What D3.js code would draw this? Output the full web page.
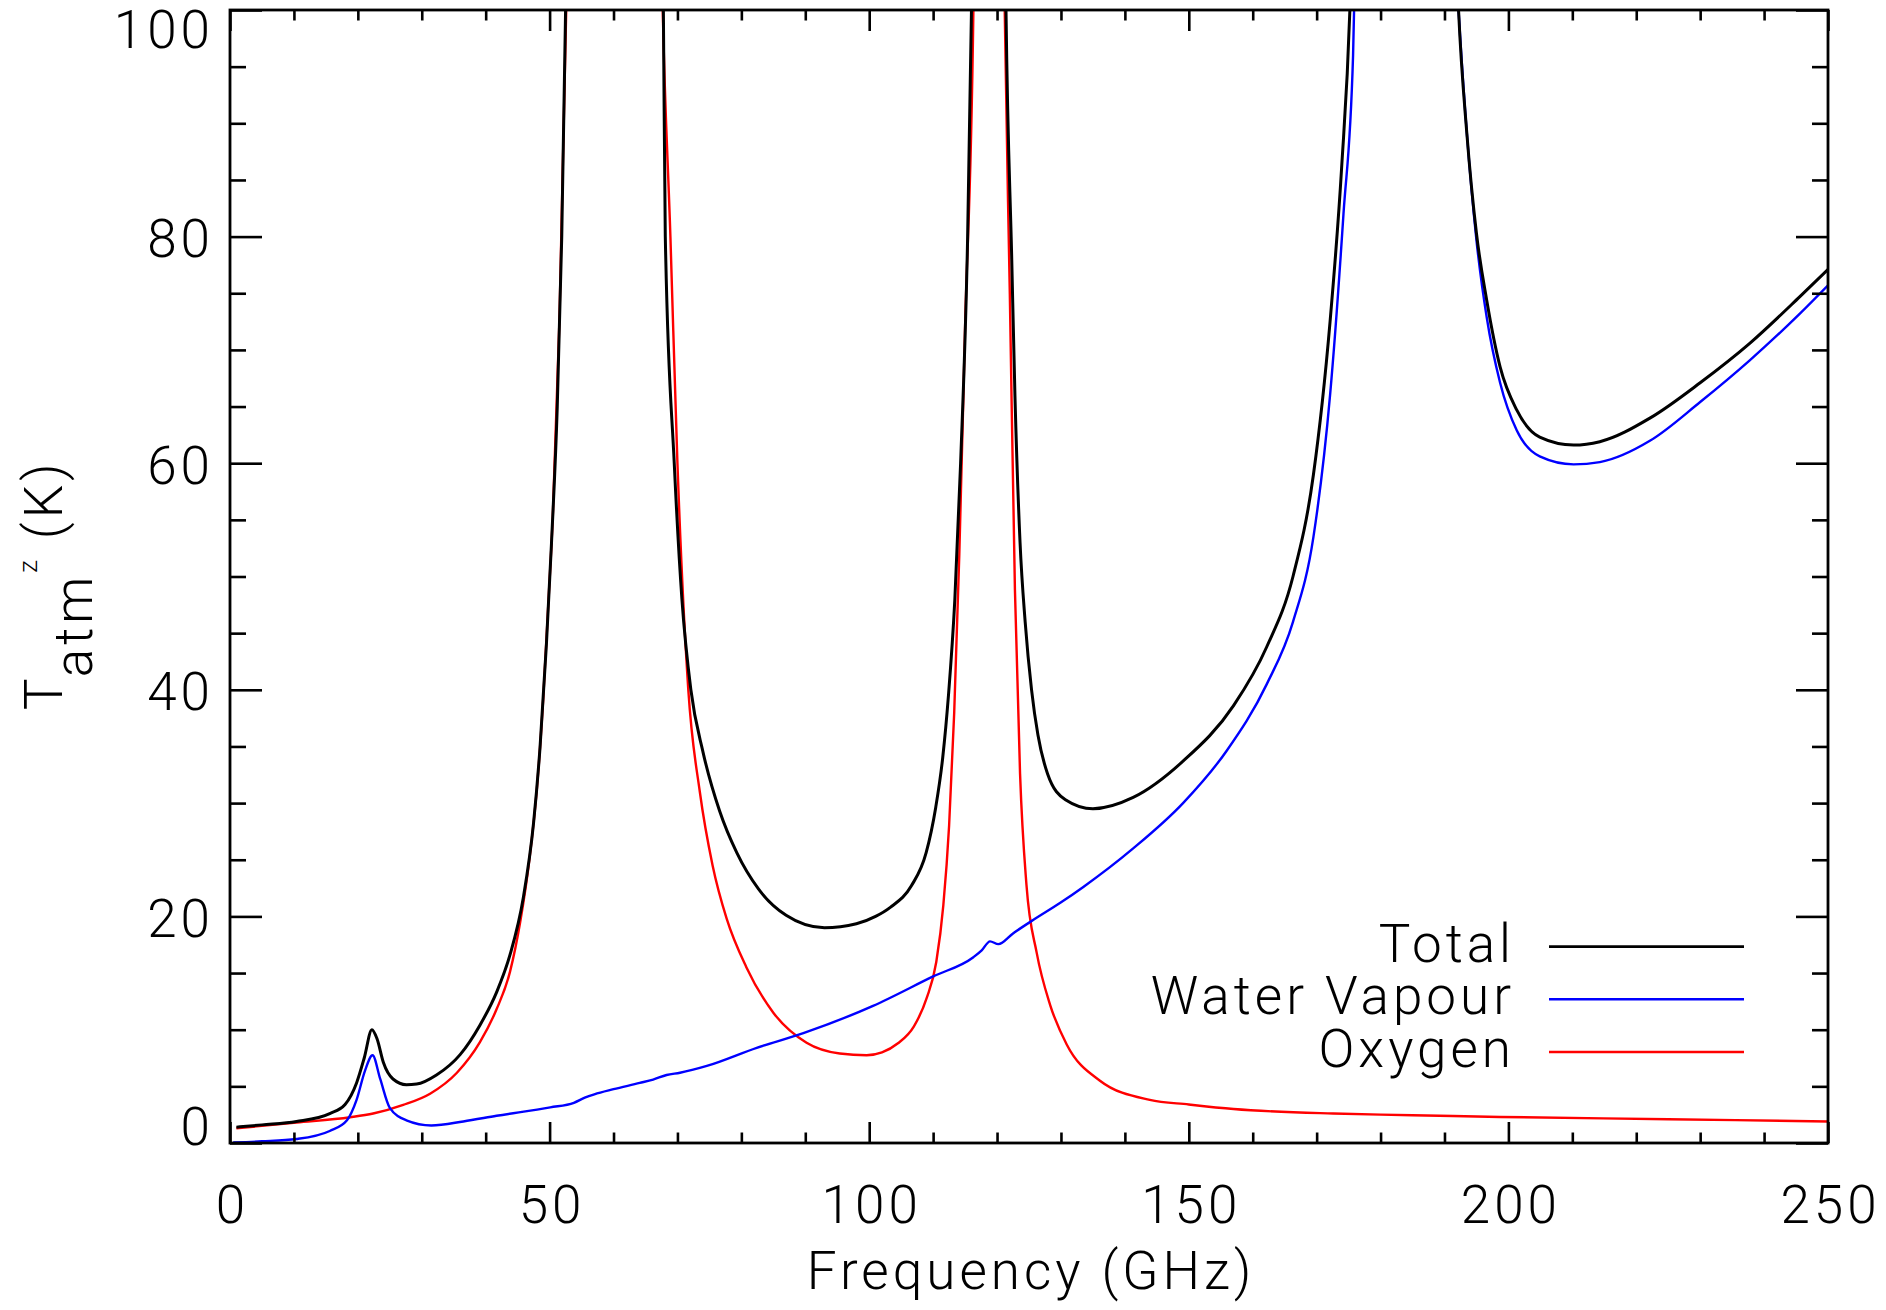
<!DOCTYPE html>
<html>
<head>
<meta charset="utf-8">
<script src="https://cdn.jsdelivr.net/npm/d3@7"></script>
<style>
  body { margin: 0; background: #fff; }
  svg text { font-family: "Roboto", "DejaVu Sans", sans-serif; font-weight: 300; fill: #000; letter-spacing: 4px; }
</style>
</head>
<body>
<div id="chart"></div>
<script>
// frequencies (GHz) and sky brightness (K)
// values above 100 K are guesses, they get clipped by the frame anyway
let totalFreq = [1, 5, 10.4, 15.6, 18, 19.8, 21, 22.2, 23, 24, 25.5, 27.6, 29.2, 32.3, 36, 39.1, 41.7, 43.8, 45.9, 47.5, 48.5, 49.5, 50.3, 51.2, 51.9, 52.5, 53.5, 55, 60, 65, 66.6, 67.8, 68.1, 69.5, 70.7, 72.1, 74, 76.6, 79.3, 82.7, 87, 93, 98, 101, 103.3, 106.6, 108.9, 110.4, 111.5, 112.4, 113.4, 114.3, 115.4, 116, 116.8, 117.8, 118.75, 119.8, 120.7, 121.4, 122.3, 122.8, 123.6, 124.4, 125.4, 126.4, 127.9, 130.7, 135, 141.3, 149.1, 157, 162.2, 166.3, 169.5, 172.1, 173.9, 175.2, 176.5, 178.5, 183.3, 188, 190.5, 192.2, 193.5, 195, 196.6, 198.7, 201.3, 204.9, 210.2, 214.3, 222.2, 230, 237.8, 245.6, 250];
let totalTemp = [1.4, 1.6, 1.9, 2.6, 3.4, 5.3, 7.5, 10.0, 9.2, 7.1, 5.65, 5.15, 5.2, 6.0, 7.8, 10.4, 13.3, 16.6, 21.7, 28.3, 34.9, 44, 53, 65, 80, 100, 140, 200, 250, 200, 140, 100, 80, 60, 48, 40, 34.5, 29.3, 25.6, 22.4, 20.1, 19.0, 19.35, 20.0, 20.8, 22.7, 25.6, 29.6, 34, 39.5, 48, 60, 80, 100, 140, 200, 250, 200, 140, 100, 78, 66, 53, 46, 40, 36, 32.6, 30.3, 29.5, 30.5, 33.7, 38.6, 43.8, 50, 59, 72.5, 86, 100, 130, 180, 260, 180, 130, 100, 89.1, 80.3, 74.4, 68.5, 64.7, 62.3, 61.6, 61.9, 64, 67.1, 70.6, 74.7, 77.1];

let waterFreq = [0.5, 5, 10.4, 15.6, 18.3, 19.8, 21.1, 22.3, 23.5, 25, 27.6, 31.5, 36.5, 41.7, 50.1, 53.8, 55.5, 57, 60, 64.1, 66.2, 68.3, 70.4, 74.6, 82.4, 89.7, 100.6, 110, 116.3, 117.6, 118.9, 120.2, 122.5, 125.7, 129.9, 133.5, 141.3, 149.1, 155.9, 162.2, 166.3, 169.5, 172.1, 174.2, 175.7, 177, 179.5, 183.3, 187, 190, 192.2, 195, 196.6, 198.7, 201.3, 204.9, 210.2, 214.3, 222.2, 230, 237.8, 245.6, 250];
let waterTemp = [0.05, 0.15, 0.35, 1.06, 2.0, 3.8, 6.35, 7.75, 5.65, 3.1, 2.0, 1.55, 1.9, 2.4, 3.15, 3.55, 4.0, 4.3, 4.75, 5.3, 5.6, 6.0, 6.2, 6.8, 8.4, 9.7, 12.1, 14.7, 16.4, 17.0, 17.8, 17.55, 18.5, 19.7, 21.2, 22.6, 26.0, 30.0, 34.6, 40.5, 46, 53.5, 66, 82, 96, 130, 180, 260, 180, 125, 100, 79.7, 72.9, 67.1, 62.9, 60.6, 59.9, 60.1, 62, 65.4, 69.1, 73.2, 75.7];

let oxygenFreq = [1, 10.4, 18.8, 22.4, 27.1, 31.3, 35.5, 39.1, 41.7, 43.8, 45.4, 46.9, 48, 49, 49.8, 50.5, 51.5, 52.6, 53.5, 55, 60, 65, 66.5, 67.7, 68.9, 70, 71.7, 73.5, 75.5, 77.7, 80.8, 85, 90.2, 95.4, 99.6, 102, 104.5, 107, 109, 110.5, 111.6, 112.5, 113.3, 114.1, 115, 116.3, 117.2, 118.75, 120.3, 121.2, 122, 122.8, 123.6, 124.6, 126.2, 128.3, 130.9, 136.1, 143.9, 150, 157, 172.6, 180, 185, 198.7, 225, 250];
let oxygenTemp = [1.3, 1.8, 2.27, 2.6, 3.36, 4.35, 6.2, 8.9, 11.8, 15.1, 19.5, 25.3, 31.2, 39.2, 47.6, 55.3, 72, 100, 140, 200, 250, 200, 140, 100, 80, 60, 40, 31, 24.5, 19.8, 15.5, 11.5, 8.85, 7.9, 7.75, 8.0, 8.8, 10.3, 12.8, 16, 21, 28, 38, 52, 72, 100, 150, 250, 150, 100, 74.9, 48.8, 32.6, 22.8, 16.8, 12.2, 8.7, 5.5, 3.8, 3.4, 3.0, 2.6, 2.5, 2.45, 2.3, 2.1, 1.9];

let xMajor = [0, 50, 100, 150, 200, 250];
let yMajor = [0, 20, 40, 60, 80, 100];

let legendNames = ["Total", "Water Vapour", "Oxygen"];
let legendColors = ["#000000", "#0000ff", "#ff0000"];

// page layout
let W = 1886, H = 1310;
let margin = {top: 10, right: 58, bottom: 167, left: 230};
let width = W - margin.left - margin.right,
    height = H - margin.top - margin.bottom;
let fontSize = 53;

let svg = d3.select("#chart").append("svg")
    .attr("width", W)
    .attr("height", H);

let viz = svg.append("g")
    .attr("transform", "translate(" + margin.left + "," + margin.top + ")");

let xScale = d3.scaleLinear().domain([0, 250]).range([0, width]);
let yScale = d3.scaleLinear().domain([0, 100]).range([height, 0]);

let xMinor = d3.range(0, 251, 10).filter(d => d % 50 != 0);
let yMinor = d3.range(0, 101, 5).filter(d => d % 20 != 0);

svg.append("defs").append("clipPath").attr("id", "plotclip")
  .append("rect").attr("x", 0).attr("y", 0).attr("width", width).attr("height", height);

// the curves
let series = [
  {freq: totalFreq, temp: totalTemp, color: "#000000", w: 3},
  {freq: waterFreq, temp: waterTemp, color: "#0000ff", w: 2.4},
  {freq: oxygenFreq, temp: oxygenTemp, color: "#ff0000", w: 2.4}
];

let line = d3.line()
  .x(d => xScale(d[0]))
  .y(d => yScale(d[1]))
  .curve(d3.curveMonotoneX);

let linegroup = viz.append("g").attr("clip-path", "url(#plotclip)");
// draw oxygen and water first, total on top
[series[2], series[1], series[0]].forEach(s => {
  let pts = s.freq.map((f, i) => [f, s.temp[i]]);
  linegroup.append("path")
    .datum(pts)
    .attr("fill", "none")
    .attr("stroke", s.color)
    .attr("stroke-width", s.w)
    .attr("stroke-linejoin", "round")
    .attr("d", line);
});

// axes: ticks point inwards on all four sides
function styleAxis(g){
  g.select(".domain").remove();
  g.selectAll("line").attr("stroke", "#000").attr("stroke-width", 2.6);
}

let xAxis = d3.axisBottom(xScale).tickValues(xMajor).tickSize(-21).tickPadding(42).tickFormat(d3.format("d"));
let xAxisGroup = viz.append("g").attr("transform", "translate(0," + height + ")").call(xAxis);
xAxisGroup.call(styleAxis);
xAxisGroup.selectAll("text").attr("font-size", fontSize).attr("font-family", null).attr("dx", 2);

viz.append("g").attr("transform", "translate(0," + height + ")")
  .call(d3.axisBottom(xScale).tickValues(xMinor).tickSize(-10.5).tickFormat(""))
  .call(styleAxis);
viz.append("g")
  .call(d3.axisTop(xScale).tickValues(xMajor).tickSize(-21).tickFormat(""))
  .call(styleAxis);
viz.append("g")
  .call(d3.axisTop(xScale).tickValues(xMinor).tickSize(-10.5).tickFormat(""))
  .call(styleAxis);

let yAxis = d3.axisLeft(yScale).tickValues(yMajor).tickSize(-32).tickPadding(16).tickFormat(d3.format("d"));
let yAxisGroup = viz.append("g").call(yAxis);
yAxisGroup.call(styleAxis);
yAxisGroup.selectAll("text")
  .attr("font-size", fontSize).attr("font-family", null)
  .attr("dy", null)
  .attr("y", function(d){
    // keep the end labels inside the frame height
    let base = yScale(d) + 20;
    base = Math.max(base, 37);
    base = Math.min(base, height + 1);
    return base - yScale(d);
  });

viz.append("g")
  .call(d3.axisLeft(yScale).tickValues(yMinor).tickSize(-16).tickFormat(""))
  .call(styleAxis);
viz.append("g").attr("transform", "translate(" + width + ",0)")
  .call(d3.axisRight(yScale).tickValues(yMajor).tickSize(-32).tickFormat(""))
  .call(styleAxis);
viz.append("g").attr("transform", "translate(" + width + ",0)")
  .call(d3.axisRight(yScale).tickValues(yMinor).tickSize(-16).tickFormat(""))
  .call(styleAxis);

// frame
viz.append("rect")
  .attr("x", 0).attr("y", 0)
  .attr("width", width).attr("height", height)
  .attr("fill", "none")
  .attr("stroke", "#000")
  .attr("stroke-width", 2.8);

// axis titles
svg.append("text")
  .attr("x", margin.left + width / 2 + 2)
  .attr("y", 1289)
  .attr("text-anchor", "middle")
  .attr("font-size", fontSize)
  .text("Frequency (GHz)");

let ytitle = svg.append("text")
  .attr("transform", "translate(62,710) rotate(-90)")
  .attr("font-size", fontSize);
ytitle.append("tspan").text("T");
ytitle.append("tspan").attr("dy", 30).text("atm");
ytitle.append("tspan").attr("dy", -55).attr("font-size", 26).text("z");
ytitle.append("tspan").attr("dy", 25).text(" (K)");

// legend
let legend = viz.append("g").attr("class", "legend");
legendNames.forEach((name, i) => {
  let ly = 936.6 + i * 52.7;
  legend.append("text")
    .attr("x", 1285)
    .attr("y", ly + 15)
    .attr("text-anchor", "end")
    .attr("font-size", fontSize)
    .text(name);
  legend.append("line")
    .attr("x1", 1319).attr("x2", 1514)
    .attr("y1", ly).attr("y2", ly)
    .attr("stroke", legendColors[i])
    .attr("stroke-width", i == 0 ? 2.8 : 2.4);
});
</script>
</body>
</html>
